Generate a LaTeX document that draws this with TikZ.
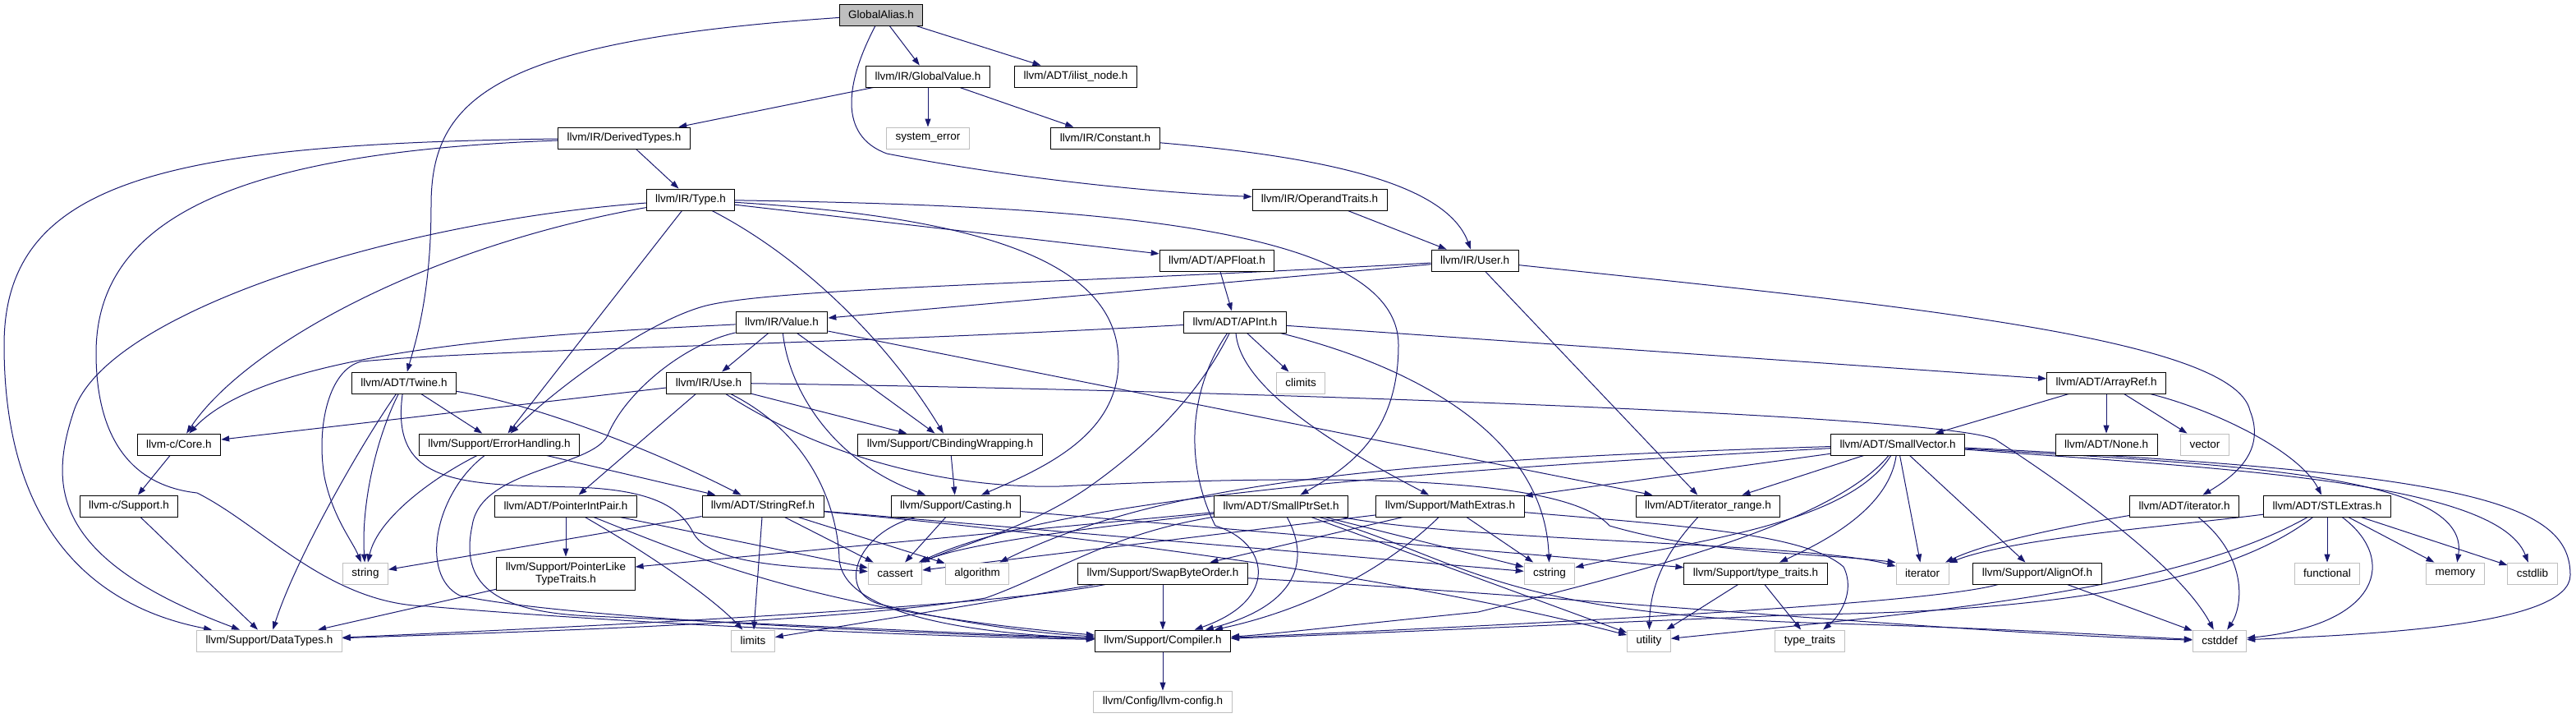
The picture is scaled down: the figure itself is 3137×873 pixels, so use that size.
\documentclass[tikz,border=0pt]{standalone}
\usepackage{fontspec}
\setmainfont{Liberation Sans}
\usetikzlibrary{arrows.meta, backgrounds}
\definecolor{edgec}{RGB}{25,25,112}
\definecolor{sysc}{RGB}{191,191,191}
\definecolor{rootc}{RGB}{191,191,191}
\tikzset{
  file/.style={
    rectangle, draw=black, line width=0.9pt, fill=white,
    font=\fontsize{13.5}{15}\selectfont, text=black,
    inner xsep=11pt, inner ysep=0pt, minimum height=26pt, align=center
  },
  sys/.style={file, draw=sysc},
  root/.style={file, fill=rootc},
  dep/.style={-{Triangle[length=10pt, width=7pt]}, line width=1pt, color=edgec},
}

\begin{document}
\begin{tikzpicture}[x=1pt, y=-1pt]

  \useasboundingbox (0,0) rectangle (3137,873);

  % the header and what it pulls in, row by row
  \node[root] (ga) at (1073,18) {GlobalAlias.h};
  \node[file] (gv) at (1130,93) {llvm/IR/GlobalValue.h};
  \node[file] (ilist) at (1310,93) {llvm/ADT/ilist\_node.h};
  \node[file] (derived) at (760,168) {llvm/IR/DerivedTypes.h};
  \node[sys] (systemerror) at (1130,168) {system\_error};
  \node[file] (constant) at (1346,168) {llvm/IR/Constant.h};
  \node[file] (type) at (841,243) {llvm/IR/Type.h};
  \node[file] (optraits) at (1607,243) {llvm/IR/OperandTraits.h};
  \node[file] (apfloat) at (1482,317) {llvm/ADT/APFloat.h};
  \node[file] (user) at (1796,317) {llvm/IR/User.h};
  \node[file] (value) at (952,392) {llvm/IR/Value.h};
  \node[file] (apint) at (1504,392) {llvm/ADT/APInt.h};
  \node[file] (twine) at (492,466) {llvm/ADT/Twine.h};
  \node[file] (use) at (863,466) {llvm/IR/Use.h};
  \node[sys] (climits) at (1584,466) {climits};
  \node[file] (arrayref) at (2565,466) {llvm/ADT/ArrayRef.h};
  \node[file] (core) at (218,541) {llvm-c/Core.h};
  \node[file] (errh) at (608,541) {llvm/Support/ErrorHandling.h};
  \node[file] (cbind) at (1157,541) {llvm/Support/CBindingWrapping.h};
  \node[file] (svec) at (2311,541) {llvm/ADT/SmallVector.h};
  \node[file] (none) at (2565,541) {llvm/ADT/None.h};
  \node[sys] (vector) at (2685,541) {vector};
  \node[file] (csupport) at (157,616) {llvm-c/Support.h};
  \node[file] (pip) at (689,616) {llvm/ADT/PointerIntPair.h};
  \node[file] (sref) at (929,616) {llvm/ADT/StringRef.h};
  \node[file] (casting) at (1164,616) {llvm/Support/Casting.h};
  \node[file] (sps) at (1560,616) {llvm/ADT/SmallPtrSet.h};
  \node[file] (mext) at (1766,616) {llvm/Support/MathExtras.h};
  \node[file] (itrange) at (2080,616) {llvm/ADT/iterator\_range.h};
  \node[file] (iterh) at (2660,616) {llvm/ADT/iterator.h};
  \node[file] (stlx) at (2834,616) {llvm/ADT/STLExtras.h};
  \node[sys] (string) at (445,698) {string};
  \node[file, minimum height=40pt] (pltt) at (689,698) {llvm/Support/PointerLike\\TypeTraits.h};
  \node[sys] (cassert) at (1090,698) {cassert};
  \node[sys] (algorithm) at (1190,698) {algorithm};
  \node[file] (sbo) at (1416,698) {llvm/Support/SwapByteOrder.h};
  \node[sys] (cstring) at (1887,698) {cstring};
  \node[file] (ttraits) at (2138,698) {llvm/Support/type\_traits.h};
  \node[sys] (iterator) at (2341,698) {iterator};
  \node[file] (alignof) at (2481,698) {llvm/Support/AlignOf.h};
  \node[sys] (functional) at (2834,698) {functional};
  \node[sys] (memory) at (2990,698) {memory};
  \node[sys] (cstdlib) at (3084,698) {cstdlib};
  \node[sys] (datatypes) at (328,780) {llvm/Support/DataTypes.h};
  \node[sys] (limits) at (917,780) {limits};
  \node[file] (compiler) at (1416,780) {llvm/Support/Compiler.h};
  \node[sys] (utility) at (2008,780) {utility};
  \node[sys] (typetraits) at (2204,780) {type\_traits};
  \node[sys] (cstddef) at (2703,780) {cstddef};
  \node[sys] (config) at (1416,854) {llvm/Config/llvm-config.h};

  \begin{scope}[on background layer]
  % includes that run straight
  \foreach \a/\b in {ga/gv, ga/ilist, gv/derived, gv/systemerror, gv/constant,
      optraits/user, derived/type, type/apfloat, type/errh, user/value,
      user/itrange, apfloat/apint, value/use, value/cbind, value/itrange,
      use/core, use/pip, use/cbind, apint/climits, apint/arrayref, twine/errh,
      core/csupport, csupport/datatypes, errh/sref, cbind/casting, pip/pltt,
      pip/cassert, pltt/datatypes, sref/string, sref/cassert, sref/algorithm,
      sref/limits, sref/cstring, casting/cassert, casting/ttraits, sps/pltt,
      sps/utility, sps/cstring, mext/sbo, mext/cassert, mext/cstring,
      sbo/compiler, sbo/limits, svec/itrange, svec/alignof, svec/iterator,
      svec/mext, arrayref/svec, arrayref/none, arrayref/vector,
      stlx/functional, stlx/memory, stlx/cstdlib, ttraits/utility,
      ttraits/typetraits, alignof/cstddef, compiler/config}
    \draw[dep] (\a) -- (\b);

  % includes that bend round other boxes
  \draw[dep] (ga) .. controls (1030,100) and (1020,165) .. (1080,187)
    .. controls (1250,220) and (1420,235) .. (optraits);
  \draw[dep] (ga) .. controls (600,50) and (525,120) .. (525,250)
    .. controls (525,360) and (505,420) .. (twine);
  \draw[dep] (constant) .. controls (1600,190) and (1760,220) .. (user);
  \draw[dep] (derived) .. controls (200,175) and (5,220) .. (5,420)
    .. controls (5,650) and (120,740) .. (datatypes);
  \draw[dep] (derived) .. controls (300,185) and (117,260) .. (117,430)
    .. controls (117,520) and (150,590) .. (240,600)
    .. controls (320,640) and (400,735) .. (520,738)
    .. controls (800,762) and (1150,775) .. (compiler);

  \draw[dep] (type) .. controls (1300,250) and (1703,270) .. (1703,420)
    .. controls (1703,530) and (1640,570) .. (sps);
  \draw[dep] (type) .. controls (1200,265) and (1362,320) .. (1362,440)
    .. controls (1362,530) and (1270,570) .. (casting);
  \draw[dep] (type) .. controls (990,320) and (1090,430) .. (cbind);
  \draw[dep] (type) .. controls (520,300) and (300,420) .. (core);
  \draw[dep] (type) .. controls (480,270) and (130,380) .. (90,500)
    .. controls (60,590) and (60,680) .. (datatypes);

  \draw[dep] (user) .. controls (1300,345) and (950,350) .. (860,372)
    .. controls (790,390) and (680,470) .. (errh);
  \draw[dep] (user) .. controls (2300,370) and (2720,410) .. (2740,500)
    .. controls (2760,550) and (2720,580) .. (iterh);

  \draw[dep] (value) .. controls (700,405) and (330,420) .. (core);
  \draw[dep] (value) .. controls (960,470) and (1010,560) .. (casting);
  \draw[dep] (value) .. controls (830,420) and (760,480) .. (740,530)
    .. controls (720,570) and (585,570) .. (575,640)
    .. controls (560,710) and (600,745) .. (720,750)
    .. controls (950,760) and (1150,770) .. (compiler);

  \draw[dep] (use) .. controls (990,530) and (1020,620) .. (1022,680)
    .. controls (1025,740) and (1150,770) .. (compiler);
  \draw[dep] (use) .. controls (1000,555) and (1150,595) .. (1290,592)
    .. controls (1750,570) and (1920,595) .. (1960,640)
    .. controls (2080,675) and (2200,672) .. (iterator.north west);
  \draw[dep] (use) .. controls (1500,475) and (2370,505) .. (2430,535)
    .. controls (2560,620) and (2660,700) .. (cstddef);

  \draw[dep] (apint) .. controls (1000,420) and (600,425) .. (440,440)
    .. controls (400,450) and (385,520) .. (395,580)
    .. controls (405,630) and (430,660) .. (string);
  \draw[dep] (apint) .. controls (1460,480) and (1400,540) .. (1330,590)
    .. controls (1260,640) and (1180,660) .. (cassert);
  \draw[dep] (apint) .. controls (1450,470) and (1440,560) .. (1480,640)
    .. controls (1545,660) and (1560,730) .. (compiler);
  \draw[dep] (apint) .. controls (1510,470) and (1620,540) .. (mext);
  \draw[dep] (apint) .. controls (1700,440) and (1880,520) .. (cstring);

  \draw[dep] (twine) .. controls (455,540) and (440,620) .. (string);
  \draw[dep] (twine) .. controls (440,540) and (360,680) .. (datatypes);
  \draw[dep] (twine) .. controls (640,490) and (780,540) .. (sref);
  \draw[dep] (twine) .. controls (475,590) and (560,590) .. (700,593)
    .. controls (800,596) and (830,620) .. (845,650)
    .. controls (870,690) and (980,690) .. (cassert);

  \draw[dep] (errh) .. controls (530,580) and (460,630) .. (string);
  \draw[dep] (errh) .. controls (530,600) and (510,700) .. (560,725)
    .. controls (700,755) and (1150,772) .. (compiler);
  \draw[dep] (pip) .. controls (800,680) and (870,730) .. (limits);
  \draw[dep] (pip) .. controls (850,680) and (1000,745) .. (compiler);
  \draw[dep] (sref) .. controls (1300,650) and (1700,700) .. (utility);
  \draw[dep] (casting) .. controls (1040,650) and (1020,720) .. (1070,735)
    .. controls (1150,755) and (1250,770) .. (compiler);

  \draw[dep] (sps) .. controls (1350,640) and (1180,660) .. (cassert);
  \draw[dep] (sps) .. controls (1600,690) and (1570,740) .. (compiler);
  \draw[dep] (sps) .. controls (1780,680) and (1820,745) .. (2200,758)
    .. controls (2450,765) and (2600,775) .. (cstddef);
  \draw[dep] (sps) .. controls (1800,660) and (2200,660) .. (iterator);
  \draw[dep] (sps) .. controls (1350,650) and (1280,700) .. (1200,728)
    .. controls (1000,760) and (600,770) .. (datatypes);

  \draw[dep] (mext) .. controls (1680,700) and (1580,745) .. (compiler);
  \draw[dep] (mext) .. controls (2050,640) and (2200,650) .. (2245,690)
    .. controls (2260,720) and (2240,750) .. (typetraits);
  \draw[dep] (sbo) .. controls (1250,730) and (1000,750) .. (datatypes);
  \draw[dep] (sbo) .. controls (1900,725) and (2400,772) .. (cstddef);

  \draw[dep] (svec) .. controls (2230,640) and (1980,700) .. (1800,745)
    .. controls (1650,760) and (1550,772) .. (compiler);
  \draw[dep] (svec) .. controls (2250,640) and (2050,660) .. (cstring);
  \draw[dep] (svec) .. controls (2300,620) and (2220,660) .. (ttraits);
  \draw[dep] (svec) .. controls (1700,560) and (1420,585) .. (algorithm);
  \draw[dep] (svec) .. controls (1800,570) and (1300,600) .. (cassert);
  \draw[dep] (svec) .. controls (2700,565) and (3010,575) .. (memory);
  \draw[dep] (svec) .. controls (2700,570) and (3040,585) .. (cstdlib);
  \draw[dep] (svec) .. controls (3000,575) and (3130,610) .. (3130,700)
    .. controls (3130,760) and (2900,772) .. (cstddef);

  \draw[dep] (arrayref) .. controls (2700,500) and (2800,550) .. (stlx);
  \draw[dep] (itrange) .. controls (2040,660) and (2010,700) .. (utility);
  \draw[dep] (iterh) .. controls (2520,640) and (2420,660) .. (iterator);
  \draw[dep] (iterh) .. controls (2740,680) and (2730,740) .. (cstddef);
  \draw[dep] (stlx) .. controls (2650,640) and (2450,655) .. (iterator);
  \draw[dep] (stlx) .. controls (2920,680) and (2900,760) .. (cstddef);
  \draw[dep] (stlx) .. controls (2700,720) and (2450,745) .. (2200,748)
    .. controls (1900,760) and (1650,772) .. (compiler);
  \draw[dep] (stlx) .. controls (2650,720) and (2350,745) .. (utility);
  \draw[dep] (alignof) .. controls (2350,735) and (1900,758) .. (compiler);
  \end{scope}

\end{tikzpicture}
\end{document}
